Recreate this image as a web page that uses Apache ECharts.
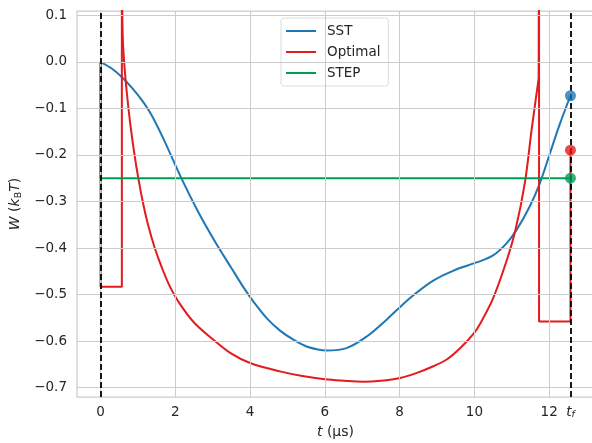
<!DOCTYPE html>
<html>
<head>
<meta charset="utf-8">
<script src="https://cdn.jsdelivr.net/npm/echarts@6/dist/echarts.min.js"></script>
<style>html,body{margin:0;padding:0;background:#fff}#c{width:592px;height:443px}</style>
</head>
<body>
<div id="c"></div>
<script>
const tf = 12.57;
const xTicks = [0, 2, 4, 6, 8, 10, 12];
const xLabelValues = [0, 2, 4, 6, 8, 10, 12, tf];
const yTicks = [-0.7, -0.6, -0.5, -0.4, -0.3, -0.2, -0.1, 0.0, 0.1];

const sstX = [0, 0.29, 0.56, 0.83, 1.10, 1.36, 1.72, 2.16, 2.61, 3.06, 3.50, 3.82, 4.08, 4.45, 4.81, 5.16, 5.53, 6.05, 6.58, 7.12, 7.65, 8.02, 8.36, 8.9, 9.43, 10.06, 10.5, 10.86, 11.13, 11.48, 11.75, 12.02, 12.28, 12.57];
const sstY = [0, -0.014, -0.032, -0.055, -0.082, -0.114, -0.172, -0.250, -0.322, -0.386, -0.443, -0.484, -0.514, -0.551, -0.578, -0.597, -0.612, -0.620, -0.615, -0.590, -0.554, -0.526, -0.502, -0.470, -0.449, -0.431, -0.416, -0.390, -0.361, -0.311, -0.261, -0.197, -0.135, -0.073];

// Optimal protocol: jump segment, smooth curve, jump segment (split at these indices)
const optX = [0, 0, 0.57, 0.57, 0.58, 0.60, 0.65, 0.72, 0.79, 0.9, 1.01, 1.14, 1.27, 1.45, 1.63, 1.85, 2.08, 2.5, 3.02, 3.5, 4.0, 4.8, 5.4, 6.0, 6.5, 7.03, 7.5, 8.01, 8.5, 8.9, 9.27, 9.61, 9.98, 10.15, 10.5, 10.86, 11.1, 11.35, 11.53, 11.72, 11.73, 11.73, 12.57, 12.57];
const optY = [0, -0.483, -0.483, 0.5, 0.12, 0.04, -0.02, -0.08, -0.13, -0.195, -0.25, -0.305, -0.35, -0.40, -0.44, -0.482, -0.515, -0.56, -0.597, -0.627, -0.647, -0.665, -0.675, -0.682, -0.685, -0.687, -0.685, -0.679, -0.667, -0.654, -0.639, -0.616, -0.584, -0.563, -0.508, -0.428, -0.361, -0.26, -0.147, -0.035, 0.5, -0.558, -0.558, -0.19];
const optCurveStart = 3, optCurveEnd = 39;

const stepX = [0, 0, 12.57];
const stepY = [0, -0.25, -0.25];

const endNames = ['SST', 'Optimal', 'STEP'];
const endY = [-0.073, -0.19, -0.25];

const colors = {SST: '#1f77b4', Optimal: '#e41a1c', STEP: '#009e55'};
const zip = (xs, ys) => xs.map((x, i) => [x, ys[i]]);
const F = 'DejaVu Sans';
const TXT = '#262626';
const FS = 13.5;
const fmtNum = v => v.toFixed(1).replace('-', '\u2212');

const optPts = zip(optX, optY);
const optA = optPts.slice(0, optCurveStart + 1);
const optB = optPts.slice(optCurveStart, optCurveEnd + 1);
const optC = optPts.slice(optCurveEnd);

const chart = echarts.init(document.getElementById('c'), null, {renderer: 'canvas'});
const optStyle = {showSymbol: false, lineStyle: {color: colors.Optimal, width: 2}, itemStyle: {color: colors.Optimal}, z: 3};
chart.setOption({
  animation: false,
  backgroundColor: '#fff',
  grid: {left: 77, top: 11, width: 517, height: 386, show: true, borderColor: '#cccccc', borderWidth: 1.25, backgroundColor: 'transparent', containLabel: false, outerBoundsMode: 'none'},
  xAxis: {
    type: 'value', min: -0.63, max: 13.2,
    axisLine: {show: false}, axisTick: {show: false}, splitLine: {show: false},
    axisLabel: {
      customValues: xLabelValues, margin: 8, fontFamily: F, fontSize: FS, color: TXT,
      formatter: v => Math.abs(v - tf) < 1e-6 ? '{i|t}{s|f}' : '{n|' + v + '}',
      rich: {
        n: {fontFamily: F, fontSize: FS, color: TXT, lineHeight: 15},
        i: {fontStyle: 'italic', fontFamily: F, fontSize: FS, color: TXT, lineHeight: 15},
        s: {fontStyle: 'italic', fontFamily: F, fontSize: 9.5, color: TXT, lineHeight: 7, verticalAlign: 'bottom'}
      }
    },
    name: '{i|t} (\u03bcs)', nameLocation: 'middle', nameGap: 27,
    nameTextStyle: {fontFamily: F, fontSize: 14, color: TXT, rich: {i: {fontStyle: 'italic', fontFamily: F, fontSize: 14, color: TXT}}}
  },
  yAxis: {
    type: 'value', min: -0.72, max: 0.109,
    axisLine: {show: false}, axisTick: {show: false}, splitLine: {show: false},
    axisLabel: {customValues: yTicks, margin: 10, fontFamily: F, fontSize: FS, color: TXT, formatter: v => fmtNum(v)},
    name: '{i|W} ({i|k}{s|B}{i|T})', nameLocation: 'middle', nameGap: 44, nameRotate: 90,
    nameTextStyle: {fontFamily: F, fontSize: 14, color: TXT, rich: {i: {fontStyle: 'italic', fontFamily: F, fontSize: 14, color: TXT}, s: {fontFamily: F, fontSize: 9.5, color: TXT, verticalAlign: 'bottom', padding: [6, 0, 0, 0]}}}
  },
  legend: {
    data: endNames, orient: 'vertical', left: 281, top: 18,
    icon: 'rect', itemWidth: 30, itemHeight: 2, itemGap: 5,
    padding: [5, 8, 5, 5],
    backgroundColor: 'rgba(255,255,255,0.8)', borderColor: '#dcdcdc', borderWidth: 1, borderRadius: 3,
    textStyle: {fontFamily: F, fontSize: FS, color: TXT, lineHeight: 16, padding: [0, 0, 0, 6]}
  },
  series: [
    {
      name: 'grid', type: 'line', data: [[0, 0]], showSymbol: false, lineStyle: {opacity: 0}, z: 0, silent: true,
      markLine: {silent: true, symbol: ['none', 'none'], label: {show: false}, lineStyle: {color: '#cccccc', width: 1, type: 'solid'}, emphasis: {disabled: true},
        data: yTicks.map(v => ({yAxis: v})).concat(xTicks.map(v => ({xAxis: v})))}
    },
    {
      name: 'vlines', type: 'line', data: [[0, 0]], showSymbol: false, lineStyle: {opacity: 0}, z: 1, silent: true,
      markLine: {silent: true, symbol: ['none', 'none'], label: {show: false}, lineStyle: {color: '#000000', width: 1.8, type: [6, 3]}, emphasis: {disabled: true},
        data: [{xAxis: 0}, {xAxis: tf}]}
    },
    {name: 'SST', type: 'line', data: zip(sstX, sstY), showSymbol: false, smooth: 0.35, lineStyle: {color: colors.SST, width: 2}, itemStyle: {color: colors.SST}, z: 2},
    Object.assign({name: 'Optimal', type: 'line', data: optA}, optStyle),
    Object.assign({name: 'Optimal', type: 'line', data: optB, smooth: 0.35}, optStyle),
    Object.assign({name: 'Optimal', type: 'line', data: optC}, optStyle),
    {name: 'STEP', type: 'line', data: zip(stepX, stepY), showSymbol: false, lineStyle: {color: colors.STEP, width: 2}, itemStyle: {color: colors.STEP}, z: 4},
    {
      name: 'ends', type: 'scatter', symbolSize: 11, z: 6,
      data: endNames.map((n, i) => ({value: [tf, endY[i]], itemStyle: {color: colors[n]}}))
    }
  ]
});
</script>
</body>
</html>
